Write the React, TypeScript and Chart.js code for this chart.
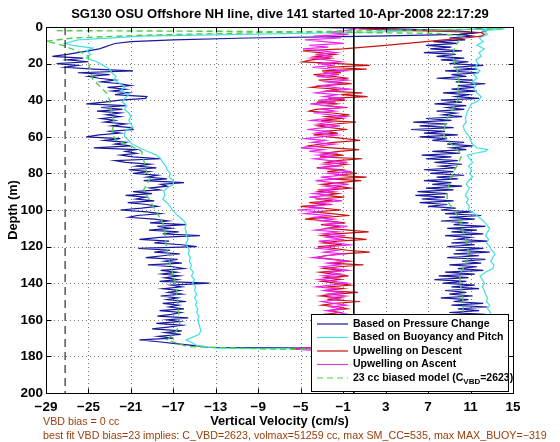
import { useEffect, useRef } from "react";
import { Chart, registerables } from "chart.js";
Chart.register(...registerables);

const FONT = '"Liberation Sans", Arial, Helvetica, sans-serif';

const titleText = "SG130 OSU Offshore NH line, dive 141 started 10-Apr-2008 22:17:29";
const xLabel = "Vertical Velocity (cm/s)";
const yLabel = "Depth (m)";
const note1 = "VBD bias = 0 cc";
const note2 = "best fit VBD bias=23 implies: C_VBD=2623, volmax=51259 cc, max SM_CC=535, max MAX_BUOY=\u2212319";

const xTicks = [-29, -25, -21, -17, -13, -9, -5, -1, 3, 7, 11, 15];
const yTicks = [0, 20, 40, 60, 80, 100, 120, 140, 160, 180, 200];

const legendLabels = [
  "Based on Pressure Change",
  "Based on Buoyancy and Pitch",
  "Upwelling on Descent",
  "Upwelling on Ascent",
];
const modelLabelParts = ["23 cc biased model (C", "VBD", "=2623)"];

// reference lines (cm/s)
const minVelLine = -27.2;
const zeroLine = 0;

// 1-m depth series (index = depth in m)
const blueDescVel = [
  11, 12, 12.5, 12, 10, 2, -10, -17, -21, -22.5,
  -23, -23.5, -24, -25, -26, -27, -28.4, -25.5, -27, -25,
  -28, -26, -27.2, -24.5, -20.8, -26, -23, -25, -24, -22.5,
  -23.8, -22, -21, -23.2, -21.5, -22.8, -21.2, -22.5, -19.5, -19.6,
  -22, -23.5, -25.2, -21.5, -23.8, -21.8, -24.2, -22, -23.3, -22,
  -23.8, -22.5, -23.5, -21.5, -22.8, -21, -20.8, -23, -22, -24,
  -25.2, -22, -23.5, -21.5, -22.5, -21, -24.5, -20.5, -21.5, -20.5,
  -22, -20.8, -18.2, -22.5, -21.5, -19.2, -20.5, -18.6, -21.2, -19.3,
  -20.8, -18.5, -19.5, -17.6, -19.8, -16, -18.2, -17.6, -19.2, -18.3,
  -20.8, -19, -21.5, -19.6, -20.5, -18.8, -21.3, -19.5, -18.5, -20,
  -22, -19.5, -18.2, -20.4, -21.2, -18.8, -17.5, -19.2, -15.8, -18.5,
  -17.2, -19.3, -16.5, -18, -14.5, -18.3, -20.2, -17.4, -18.8, -16.2,
  -14.8, -20.3, -17.3, -18.8, -16.4, -18, -19.6, -16.6, -17.8, -16.2,
  -19.4, -17, -16, -18.2, -16.7, -18.1, -16.4, -17.8, -16.6, -18.3,
  -13.6, -17.2, -16.2, -18, -16.4, -17.5, -16.2, -18.2, -16.6, -17.6,
  -15.8, -18, -16.5, -17.4, -16, -18.3, -16.3, -17.2, -18.5, -15.6,
  -17.6, -16.4, -18.6, -16.2, -17.5, -19, -16.2, -17.8, -16.3, -18.4,
  -17, -20.2, -18.4, -16.8, -15.2, -13.8, 11,
];

const blueAscVel = [
  -6, 4, 9.5, 11.5, 10, 11.2, 9, 10.5, 7.5, 9.8,
  6.8, 9.2, 7.2, 10.2, 6.6, 9.6, 7.8, 10.4, 8.2, 10.8,
  9, 12.2, 9.4, 11.6, 8.6, 11.8, 9.2, 10.6, 7.8, 11.2,
  9.6, 12.4, 9.8, 11.4, 9.2, 11.6, 8.4, 10.8, 9.6, 11.8,
  8.2, 10.2, 7.6, 10.6, 8.8, 10.4, 7.8, 9.6, 8.4, 10.2,
  6.8, 9.2, 5.6, 8.8, 6.2, 9.4, 5.4, 8.6, 6.6, 9.8,
  6.2, 8.8, 7.4, 10.4, 8.8, 11.2, 9.2, 10.6, 7.4, 10,
  6.4, 9.2, 6.8, 9.8, 7.6, 10.2, 8.2, 9.6, 6.6, 9.4,
  7.2, 10.4, 7.8, 9.8, 6.6, 9.2, 7.4, 10.2, 6.8, 9.4,
  6, 8.8, 5.8, 8.6, 6.4, 9.4, 6.2, 8.8, 7, 9.6,
  8.2, 11.2, 8.6, 12, 9, 11.4, 8.2, 10.8, 9.4, 12.4,
  8.8, 11.6, 9.2, 12.2, 8.6, 11, 9.8, 12.6, 9.2, 11.4,
  8.8, 12.2, 9.6, 12.8, 9.4, 11.8, 8.8, 12.4, 10.2, 12,
  9, 11.6, 9.8, 12.2, 8.6, 11.4, 8, 10.8, 7.6, 10.6,
  8.4, 11.4, 9.2, 11.8, 8.6, 10.6, 9, 11.2, 8.2, 10.8,
  9.4, 12.2, 9.2, 12.6, 9.8, 11.8, 9, 12.4, 9.6, 11.6,
  9.4, 12, 9.8, 11.4, 9.2, 12.2, 10, 11.8, 9.4, 12.4,
  10.2, 11.6, 9.6, 12, 10.4, 11.4, 11,
];

const redVel = [
  0, 0.5, 6, 12, 12.3, 12, 10.5, 8.5, 6.8, 5,
  3, 1, -1, -4.8, -3.2, -1.8, -3.6, -2.2, -4, -4.8,
  -1.5, 1.5, -2.5, 1.2, -3, -1.2, -3.8, -2, -0.5, -3.3,
  -1.8, -0.2, -2.8, -4, -1.5, -2.6, 0.8, -1.2, 1.3, -2.4,
  -0.8, -3.5, -1.6, -2.8, -0.6, -3.6, -4.2, -2, -0.4, -2.6,
  -1.2, -3.1, 0.2, -1.8, -3.4, -2.2, -0.6, -2.9, -1.5, -3.8,
  -2.4, -0.8, 0.6, -1.9, -3.2, -4.3, -2.1, 0.5, -1.4, -2.8,
  -1, -3.2, 0.8, -1.6, -2.6, -0.7, -2.1, -3.5, -1.2, -2.5,
  0.3, -1.8, 1.2, -2.4, 0.7, -1.4, -3, -1.6, -0.3, -2.2,
  -3.3, -1.5, -2.8, -0.9, -3.6, -2, -4.2, -2.6, -5, -3,
  -1.2, -3.8, -2.1, -0.4, -2.7, -4.6, -2.3, -0.8, -3.1, -1.5,
  -2.6, -0.5, 1.4, -1.8, -3, -0.9, 1.2, -1.5, -2.9, -1.1,
  -3.4, -1.9, -0.6, 1.5, -1.2, -2.7, -3.5, -1.8, -0.4, -2.3,
  0.9, -1.4, -2.8, -1.1, -3.2, -2, -0.5, -2.6, -1.3, -3,
  -1.7, -0.3, -2.4, -1, -2.9, 0.4, -1.6, -3.1, -1.2, -2.5,
  0.6, -1.8, -3, -1.4, -0.6, -2.4, -1.3, -2.8, -0.9, -2.2,
  -1.4, -3.2, -1.6, -0.5, -2.4, -1.2, -2.9, -1.8, -0.7, -2.5,
  -1.5, -3, -1.8, -2.6, -1.4, -3.5, -6,
];

const magentaVel = [
  0.8, 0.2, -0.8, -2.5, -0.5, -3.8, -1.2, -4.6, -2.8, -1,
  -4.2, -2.4, -4.8, -3, -1.6, -3.6, -2, -4, -2.6, -1.2,
  -3.4, -1.8, -3.9, -2.2, -0.8, -2.9, -1.4, -3.5, -1.8, -0.6,
  -2.6, -1.2, -3.2, -1.9, -0.4, -2.4, -3.6, -1.6, -2.8, -0.9,
  -3.3, -1.7, -4.1, -2.5, -1.1, -3, -1.8, -3.8, -2.2, -0.7,
  -2.6, -4, -2.1, -3.4, -1.3, -2.8, -4.4, -2.4, -3.6, -1.6,
  -3.1, -4.6, -2.7, -3.9, -1.8, -3.2, -5, -2.9, -4.2, -1.5,
  -3.4, -1.9, -3.7, -2.2, -0.6, -2.8, -1.4, -3.3, -1.7, -0.2,
  -2.4, -1, -3.1, -1.6, -3.6, -2, -0.5, -2.7, -1.3, -3.4,
  -1.9, -3.8, -2.3, -4.2, -2.6, -1.1, -3.5, -2, -4.4, -2.8,
  -5.3, -3.2, -4.6, -2.4, -3.8, -1.9, -3.1, -1.2, -2.8, -0.6,
  -2.2, -3.6, -1.5, -2.9, -0.8, -2.5, -1.2, -3.3, -1.7, -0.4,
  -2.3, -3.4, -1.6, -2.8, -1, -2.6, -3.9, -2.1, -0.7, -2.5,
  -1.3, -3, -1.8, -0.5, -2.4, -1.2, -2.9, -1.5, -3.3, -1.9,
  -0.6, -2.2, -3.5, -1.7, -2.8, -1.1, -2.5, -0.8, -2.3, -1.4,
  -3, -1.9, -0.7, -2.2, -1.2, -2.6, -1.5, -0.6, -2, -2.9,
  -1.3, -2.4, -0.9, -2.1, -1.4, -2.7, -1.6, -0.8, -2.3, -1.2,
  -2.5, -1.8, -3, -1.6, -2.4, -3.4, -5.5, -3,
];

// irregular-depth series
const cyanDescDepth = [0, 1, 3, 5, 7, 9, 10, 11.5, 13, 15, 17, 19, 21, 23, 25, 27, 29, 31, 33, 35, 37, 39, 41, 43, 45, 47, 49, 51, 53, 55, 56, 58, 60, 62, 64, 66, 68, 70, 72, 74, 76, 78, 80, 82, 84, 86, 88, 90, 92, 94, 96, 98, 100, 102, 104, 106, 108, 110, 112, 114, 116, 118, 120, 122, 124, 126, 128, 130, 132, 134, 136, 138, 140, 142, 144, 146, 148, 150, 152, 154, 156, 158, 160, 162, 164, 166, 168, 170, 171, 172, 174, 175.5, 176, 176.3];
const cyanDescVel = [14, 13, 0, -20, -26, -27.2, -26.5, -24.6, -25.2, -24.8, -25.2, -24.2, -23.6, -23, -22.8, -22.4, -22.6, -22, -21.6, -22, -21.2, -21.6, -21.8, -21.4, -21.6, -21.2, -21, -21.2, -21, -20.8, -21.4, -21.6, -21.6, -21.2, -20.9, -20.2, -19.4, -18.6, -18.2, -18, -17.7, -17.6, -17.3, -17.4, -17, -17, -17.6, -17.9, -17.8, -18, -17.6, -17.3, -17.1, -16.8, -16.4, -16, -15.8, -15.9, -15.8, -15.8, -15.6, -15.8, -15.7, -15.5, -15.6, -15.4, -15.5, -15.3, -15.4, -15.1, -15.3, -15, -15.2, -14.9, -15, -14.8, -15, -14.8, -14.9, -14.7, -14.8, -14.6, -14.7, -14.6, -14.5, -14.4, -14.6, -15.4, -15.8, -15.4, -14.8, -13, 0, 12];

const cyanAscDepth = [1, 2, 4, 6, 8, 10, 12, 14, 16, 18, 20, 22, 24, 26, 28, 30, 32, 34, 36, 38, 40, 42, 44, 46, 48, 50, 52, 54, 56, 58, 60, 62, 64, 66, 67, 68, 69, 70, 72, 74, 76, 78, 80, 82, 84, 86, 88, 90, 92, 94, 96, 98, 100, 102, 104, 106, 108, 110, 112, 114, 116, 118, 120, 122, 124, 126, 128, 130, 132, 134, 136, 138, 140, 142, 144, 146, 148, 150, 152, 154, 156, 158, 160, 162, 164, 166, 168, 170, 172, 174, 176];
const cyanAscVel = [14.2, 12.2, 12.6, 11.8, 12.2, 11.6, 12.3, 11.8, 12, 11.5, 11.7, 11.4, 11.9, 11.3, 11.6, 11.2, 11.5, 11.3, 11.6, 12, 11.8, 11.1, 10.9, 10.7, 10.6, 10.5, 10.6, 10.3, 10.4, 10.6, 10.9, 11, 11.2, 11.6, 12.6, 12.4, 11.4, 10.7, 10.9, 11.2, 10.8, 11.1, 10.9, 11.2, 10.8, 10.6, 10.9, 10.7, 10.5, 10.8, 10.6, 10.9, 10.8, 11.4, 11.8, 12.2, 12.5, 12.8, 12.6, 12.4, 12.7, 12.5, 12.8, 13, 13.3, 13.1, 12.9, 13.2, 13.1, 12.4, 11.9, 12.1, 12.3, 12.1, 12.3, 12.4, 12.6, 12.5, 12.8, 12.6, 12.9, 12.7, 12.5, 12.8, 12.6, 12.4, 12.7, 12.5, 12.3, 12.6, 12.2];

const greenDescDepth = [1, 2.5, 4.5, 6, 7.8, 10, 12.4, 14, 16, 20, 24, 28.7, 32, 36, 40, 44, 47, 52, 58, 62, 65, 68, 72.5, 78, 83, 89, 94, 98, 102, 107, 112, 118, 125, 132, 138, 143, 150, 156, 162, 166, 171, 174.6, 176, 176.6];
const greenDescVel = [14, -4, -20, -26.5, -29, -27.4, -26.4, -25.6, -25, -25, -24.8, -24.6, -24, -23.3, -23, -22.9, -22.8, -22.6, -22.8, -22.4, -21, -20, -19.8, -19.6, -19.2, -19.8, -19.3, -18.9, -18.5, -18, -17.8, -17.7, -17.5, -17.2, -16.9, -16.7, -16.6, -16.5, -16.4, -16.7, -17.6, -15.7, -8, 10];

const greenAscDepth = [176.6, 172, 168, 162, 155, 150, 145, 140, 135, 130, 125, 120, 115, 110, 105, 100, 95, 90, 85, 80, 75, 70, 66, 62, 58, 54, 50, 45, 40, 35, 30, 25, 20, 15, 10, 7, 5, 3.5, 2.4, 2];
const greenAscVel = [10, 10.4, 10.2, 10.1, 10.3, 10.3, 10.2, 10, 10, 10.5, 10.8, 10.7, 10.5, 10.2, 10, 9.4, 8.8, 8.8, 9, 9.3, 9.8, 10.2, 9.6, 8.8, 8.4, 8.6, 8.8, 9.3, 9.8, 9.8, 9.9, 9.8, 9.5, 9.3, 9.6, 10, 10.2, 8, -10, -28];

const C_BLUE = "#18189e";
const C_CYAN = "#40e0e4";
const C_RED = "#cc1212";
const C_MAG = "#ee22ee";
const C_GREEN = "#4cd04c";
const C_BROWN = "#993d0a";

const byIndex = (vals: number[]) => vals.map((v, i) => ({ x: v, y: i }));
const paired = (depths: number[], vals: number[]) => vals.map((v, i) => ({ x: v, y: depths[i] }));

const fmt = (v: number) => (v < 0 ? "\u2212" + Math.abs(v) : String(v));

const framePlugin = {
  id: "matlabFrame",
  beforeDatasetsDraw(chart: any) {
    const { ctx, chartArea: a, scales } = chart;
    const xs = scales.x, ys = scales.y;
    ctx.save();
    ctx.strokeStyle = "rgba(0,0,0,0.5)";
    ctx.lineWidth = 1;
    ctx.setLineDash([1, 3]);
    for (const v of xTicks.slice(1, -1)) {
      const px = Math.round(xs.getPixelForValue(v)) + 0.5;
      ctx.beginPath(); ctx.moveTo(px, a.top); ctx.lineTo(px, a.bottom); ctx.stroke();
    }
    for (const v of yTicks.slice(1, -1)) {
      const py = Math.round(ys.getPixelForValue(v)) + 0.5;
      ctx.beginPath(); ctx.moveTo(a.left, py); ctx.lineTo(a.right, py); ctx.stroke();
    }
    ctx.restore();
  },
  afterDraw(chart: any) {
    const { ctx, chartArea: a, scales } = chart;
    const xs = scales.x, ys = scales.y;
    ctx.save();
    ctx.setLineDash([]);
    ctx.strokeStyle = "#000";
    ctx.lineWidth = 1;
    const L = Math.round(a.left) + 0.5, R = Math.round(a.right) + 0.5;
    const T = Math.round(a.top) + 0.5, B = Math.round(a.bottom) + 0.5;
    ctx.strokeRect(L, T, R - L, B - T);
    const tl = 5;
    for (const v of xTicks) {
      const px = Math.round(xs.getPixelForValue(v)) + 0.5;
      ctx.beginPath(); ctx.moveTo(px, B); ctx.lineTo(px, B - tl); ctx.moveTo(px, T); ctx.lineTo(px, T + tl); ctx.stroke();
    }
    for (const v of yTicks) {
      const py = Math.round(ys.getPixelForValue(v)) + 0.5;
      ctx.beginPath(); ctx.moveTo(L, py); ctx.lineTo(L + tl, py); ctx.moveTo(R, py); ctx.lineTo(R - tl, py); ctx.stroke();
    }
    // tick labels
    ctx.fillStyle = "#000";
    ctx.font = `bold 13.5px ${FONT}`;
    ctx.textAlign = "center";
    ctx.textBaseline = "middle";
    for (const v of xTicks) ctx.fillText(fmt(v), xs.getPixelForValue(v), 407);
    ctx.textAlign = "right";
    for (const v of yTicks) ctx.fillText(fmt(v), 43, ys.getPixelForValue(v));
    // title & axis labels
    ctx.textAlign = "center";
    ctx.font = `bold 13px ${FONT}`;
    ctx.fillText(titleText, 280, 14);
    ctx.font = `bold 12.8px ${FONT}`;
    ctx.fillText(xLabel, (a.left + a.right) / 2, 421);
    ctx.save();
    ctx.translate(13, 210);
    ctx.rotate(-Math.PI / 2);
    ctx.fillText(yLabel, 0, 0);
    ctx.restore();
    // notes
    ctx.fillStyle = C_BROWN;
    ctx.textAlign = "left";
    ctx.font = `10.7px ${FONT}`;
    ctx.fillText(note1, 43, 422);
    ctx.fillText(note2, 43, 436);
    // legend
    const bx = 311.5, by = 314.5, bw = 197, bh = 77;
    ctx.fillStyle = "#fff";
    ctx.fillRect(bx, by, bw, bh);
    ctx.strokeStyle = "#000";
    ctx.strokeRect(bx, by, bw, bh);
    const rows = [324, 337.5, 351, 364.5, 378];
    const cols = [C_BLUE, C_CYAN, C_RED, "#c84cc8", C_GREEN];
    ctx.font = `bold 10.5px ${FONT}`;
    ctx.textBaseline = "middle";
    rows.forEach((ry, i) => {
      ctx.strokeStyle = cols[i];
      ctx.lineWidth = 1.2;
      ctx.setLineDash(i === 4 ? [6, 4] : []);
      ctx.beginPath(); ctx.moveTo(317, ry); ctx.lineTo(348, ry); ctx.stroke();
      ctx.setLineDash([]);
      ctx.fillStyle = "#000";
      if (i < 4) {
        ctx.fillText(legendLabels[i], 353, ry);
      } else {
        let tx = 353;
        ctx.fillText(modelLabelParts[0], tx, ry);
        tx += ctx.measureText(modelLabelParts[0]).width;
        ctx.font = `bold 8px ${FONT}`;
        ctx.fillText(modelLabelParts[1], tx, ry + 4);
        tx += ctx.measureText(modelLabelParts[1]).width;
        ctx.font = `bold 10.5px ${FONT}`;
        ctx.fillText(modelLabelParts[2], tx, ry);
      }
    });
    ctx.restore();
  },
};

export default function App() {
  const ref = useRef<HTMLCanvasElement>(null);
  useEffect(() => {
    const line = (data: any[], color: string, order: number, extra: any = {}) => ({
      data,
      borderColor: color,
      backgroundColor: color,
      borderWidth: 1.2,
      showLine: true,
      pointRadius: 0,
      pointHoverRadius: 0,
      fill: false,
      tension: 0,
      order,
      ...extra,
    });
    const chart = new Chart(ref.current as HTMLCanvasElement, {
      type: "scatter",
      data: {
        datasets: [
          line(byIndex(blueDescVel), C_BLUE, 6),
          line(byIndex(blueAscVel), C_BLUE, 6),
          line(paired(cyanDescDepth, cyanDescVel), C_CYAN, 5),
          line(paired(cyanAscDepth, cyanAscVel), C_CYAN, 5),
          line(byIndex(redVel), C_RED, 4),
          line(byIndex(magentaVel), C_MAG, 3),
          line(paired(greenDescDepth, greenDescVel), C_GREEN, 2, { borderDash: [6, 4], borderWidth: 1.4 }),
          line(paired(greenAscDepth, greenAscVel), C_GREEN, 2, { borderDash: [6, 4], borderWidth: 1.4 }),
          line([{ x: minVelLine, y: 0 }, { x: minVelLine, y: 200 }], "#000", 1, { borderDash: [8, 5], borderWidth: 1 }),
          line([{ x: zeroLine, y: 0 }, { x: zeroLine, y: 200 }], "#000", 1, { borderWidth: 1 }),
        ],
      },
      options: {
        responsive: false,
        animation: false,
        events: [],
        layout: { padding: { top: 27, right: 47, left: 0, bottom: 0 } },
        plugins: { legend: { display: false }, title: { display: false }, tooltip: { enabled: false } },
        scales: {
          x: {
            type: "linear",
            min: -29,
            max: 15,
            afterBuildTicks: (s: any) => { s.ticks = xTicks.map((v) => ({ value: v })); },
            afterFit: (s: any) => { s.height = 49; },
            ticks: { display: false },
            grid: { display: false },
            border: { display: false },
          },
          y: {
            type: "linear",
            reverse: true,
            min: 0,
            max: 200,
            afterBuildTicks: (s: any) => { s.ticks = yTicks.map((v) => ({ value: v })); },
            afterFit: (s: any) => { s.width = 46; },
            ticks: { display: false },
            grid: { display: false },
            border: { display: false },
          },
        },
      } as any,
      plugins: [framePlugin],
    });
    return () => chart.destroy();
  }, []);
  return (
    <div style={{ position: "absolute", left: 0, top: 0, width: 560, height: 442, background: "#fff" }}>
      <canvas ref={ref} width={560} height={442} style={{ display: "block", width: 560, height: 442 }} />
    </div>
  );
}
